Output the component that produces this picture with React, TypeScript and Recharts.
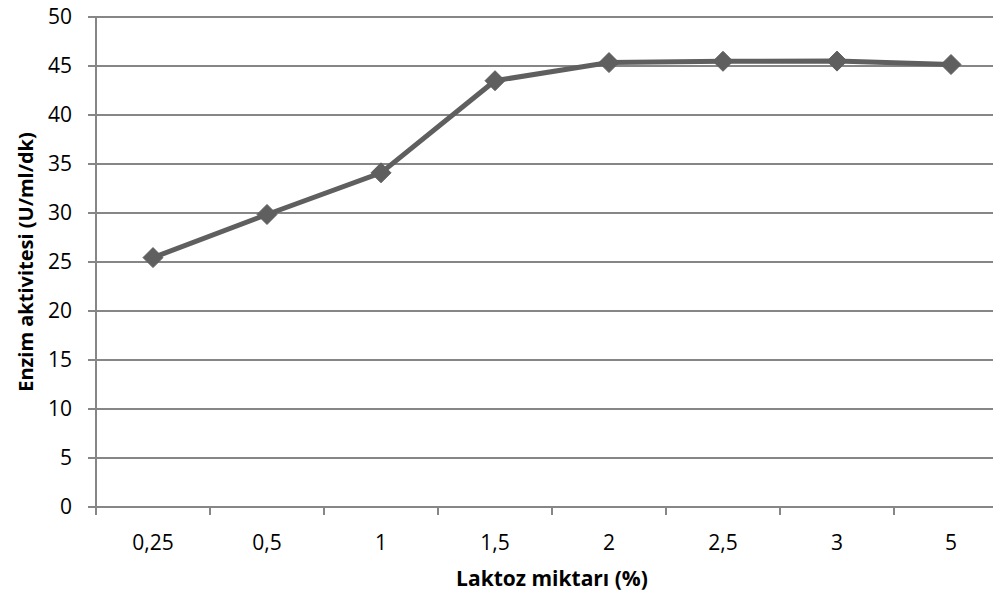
import { CartesianGrid, Label, Line, LineChart, XAxis, YAxis } from 'recharts'

const categories = ['0,25', '0,5', '1', '1,5', '2', '2,5', '3', '5']
const activity = [25.45, 29.85, 34.1, 43.5, 45.35, 45.48, 45.5, 45.15]
const yTicks = [0, 5, 10, 15, 20, 25, 30, 35, 40, 45, 50]

const data = categories.map((name, i) => ({ name, activity: activity[i] }))

const FONT = '"Open Sans", sans-serif'
const GRID = '#868686'
const SERIES = '#5f5f5f'

const CHART_W = 1010
const CHART_H = 598
const Y_AXIS_W = 96
const MARGIN = { top: 17, right: 2, left: 0, bottom: 0 }
const BAND = (CHART_W - Y_AXIS_W - MARGIN.right - MARGIN.left) / categories.length

const XTick = (props: any) => {
  const { x, y, payload } = props
  return (
    <g>
      <line x1={x - BAND / 2} x2={x - BAND / 2} y1={y} y2={y + 8} stroke={GRID} strokeWidth={2} />
      <text x={x} y={y + 43} textAnchor="middle" fontFamily={FONT} fontSize={21} fill="#000">
        {payload.value}
      </text>
    </g>
  )
}

const Diamond = (props: any) => {
  const { cx, cy } = props
  if (cx == null || cy == null) return null
  const r = 10
  return (
    <polygon
      points={`${cx},${cy - r} ${cx + r},${cy} ${cx},${cy + r} ${cx - r},${cy}`}
      fill={SERIES}
      stroke={SERIES}
    />
  )
}

export default function App() {
  return (
    <div style={{ margin: -8, width: 1001, height: 598, overflow: 'hidden', background: '#fff' }}>
      <LineChart width={CHART_W} height={CHART_H} data={data} margin={MARGIN}>
        <CartesianGrid horizontal vertical={false} stroke={GRID} strokeWidth={2} />
        <XAxis
          dataKey="name"
          height={91}
          padding={{ left: BAND / 2, right: BAND / 2 }}
          tickLine={false}
          tickSize={0}
          tickMargin={0}
          axisLine={{ stroke: GRID, strokeWidth: 2 }}
          tick={<XTick />}
          interval={0}
        >
          <Label
            value="Laktoz miktarı (%)"
            position="insideBottom"
            offset={12}
            style={{ fontFamily: FONT, fontSize: 21, fontWeight: 700, fill: '#000' }}
          />
        </XAxis>
        <YAxis
          width={Y_AXIS_W}
          domain={[0, 50]}
          ticks={yTicks}
          interval={0}
          tickSize={8}
          tickMargin={16}
          tickLine={{ stroke: GRID, strokeWidth: 2 }}
          axisLine={{ stroke: GRID, strokeWidth: 2 }}
          tick={{ fontFamily: FONT, fontSize: 21, fill: '#000' }}
        >
          <Label
            value="Enzim aktivitesi (U/ml/dk)"
            angle={-90}
            position="insideLeft"
            offset={26}
            style={{ textAnchor: 'middle', fontFamily: FONT, fontSize: 20, fontWeight: 700, fill: '#000' }}
          />
        </YAxis>
        <Line
          type="linear"
          dataKey="activity"
          stroke={SERIES}
          strokeWidth={5}
          dot={<Diamond />}
          activeDot={false}
          isAnimationActive={false}
        />
      </LineChart>
    </div>
  )
}
